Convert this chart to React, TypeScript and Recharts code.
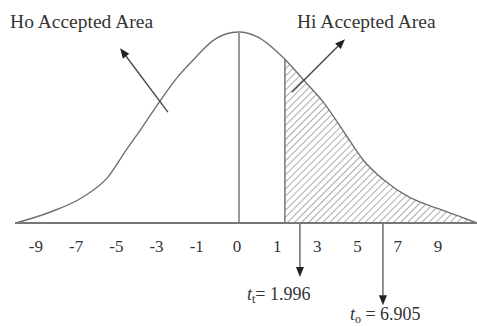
import { ComposedChart, Area, Line, XAxis, YAxis, ReferenceLine } from "recharts";

// bell curve (t value -> height)
const tValues = [-9.7, -8.2, -6.8, -5.7, -4.9, -4.2, -3.4, -2.7, -2.0, -1.1, -0.3, 0, 0.8, 1.996, 2.8, 3.7, 4.6, 5.4, 6.3, 7.4, 8.6, 9.8, 10.35];
const density = [0, 0.023, 0.054, 0.096, 0.153, 0.201, 0.258, 0.304, 0.341, 0.383, 0.399, 0.4, 0.39, 0.343, 0.3, 0.251, 0.188, 0.132, 0.09, 0.054, 0.031, 0.01, 0];

// axis labels as printed (evenly spaced under the curve)
const tickLabels = ["-9", "-7", "-5", "-3", "-1", "0", "1", "3", "5", "7", "9"];

const tTable = 1.996;
const tObserved = 6.905;

const FONT = "'Liberation Serif', 'Times New Roman', serif";

const data = tValues.map((t, i) => ({
  t,
  density: density[i],
  shade: t >= tTable ? density[i] : undefined,
}));

// rows for the label axis (one per printed tick)
const labelRows = tickLabels.map((label, i) => ({ i, label, base: 0 }));

function arrowShape(opts: { label?: any; dx?: number; dy?: number; size?: number; color?: string }) {
  return (props: any) => {
    const { x1, y1, x2, y2 } = props;
    const ang = Math.atan2(y2 - y1, x2 - x1);
    const len = 10;
    const half = 4;
    const bx = x2 - len * Math.cos(ang);
    const by = y2 - len * Math.sin(ang);
    const px = -Math.sin(ang) * half;
    const py = Math.cos(ang) * half;
    const color = opts.color ?? "#444";
    return (
      <g>
        <line x1={x1} y1={y1} x2={bx} y2={by} stroke={color} strokeWidth={1.3} />
        <polygon points={`${x2},${y2} ${bx + px},${by + py} ${bx - px},${by - py}`} fill="#222" />
        {opts.label && (
          <text
            x={x2 + (opts.dx ?? 0)}
            y={y2 + (opts.dy ?? 0)}
            style={{ fontFamily: FONT, fontSize: opts.size ?? 18 }}
            fill="#333"
          >
            {opts.label}
          </text>
        )}
      </g>
    );
  };
}

const ttLabel = (
  <>
    <tspan fontStyle="italic">t</tspan>
    <tspan dy={3} style={{ fontSize: 12 }}>t</tspan>
    <tspan dy={-3}>= {tTable}</tspan>
  </>
);
const toLabel = (
  <>
    <tspan fontStyle="italic">t</tspan>
    <tspan dy={3} style={{ fontSize: 12 }}>o</tspan>
    <tspan dy={-3}> = {tObserved}</tspan>
  </>
);

export default function App() {
  return (
    <div style={{ position: "absolute", left: 0, top: 0, background: "#fff", fontFamily: FONT }}>
      <ComposedChart width={477} height={326} data={data} margin={{ top: 32, right: 0, bottom: 73, left: 15 }}>
        <defs>
          <pattern id="hatch" width="5" height="5" patternUnits="userSpaceOnUse" patternTransform="rotate(45)">
            <line x1="0" y1="0" x2="0" y2="5" stroke="#666" strokeWidth={1.1} />
          </pattern>
        </defs>
        <XAxis xAxisId="t" dataKey="t" type="number" domain={[-9.74, 10.35]} allowDataOverflow hide />
        <XAxis
          xAxisId="lab"
          dataKey="i"
          type="number"
          domain={[-0.52, 10.97]}
          allowDataOverflow
          ticks={labelRows.map((r) => r.i)}
          interval={0}
          tickFormatter={(i: number) => tickLabels[i]}
          height={30}
          tickLine={false}
          tickSize={15}
          tickMargin={2}
          axisLine={{ stroke: "#777", strokeWidth: 2 }}
          tick={{ fill: "#333", fontSize: 17, fontFamily: FONT }}
        />
        <YAxis domain={[0, 0.4]} hide />
        <Line xAxisId="lab" data={labelRows} dataKey="base" stroke="none" dot={false} activeDot={false} isAnimationActive={false} />
        <Area xAxisId="t" type="monotone" dataKey="shade" stroke="none" fill="url(#hatch)" fillOpacity={1} isAnimationActive={false} dot={false} activeDot={false} />
        <Area xAxisId="t" type="monotone" dataKey="density" stroke="#707070" strokeWidth={1.4} fill="none" isAnimationActive={false} dot={false} activeDot={false} />
        <ReferenceLine xAxisId="t" segment={[{ x: 0, y: 0 }, { x: 0, y: 0.4 }]} stroke="#999" strokeWidth={2} ifOverflow="visible" />
        <ReferenceLine xAxisId="t" segment={[{ x: tTable, y: 0 }, { x: tTable, y: 0.343 }]} stroke="#777" strokeWidth={1.5} ifOverflow="visible" />
        <ReferenceLine
          xAxisId="t"
          segment={[{ x: -3.09, y: 0.232 }, { x: -5.17, y: 0.366 }]}
          ifOverflow="visible"
          shape={arrowShape({ label: "Ho Accepted Area", dx: -110, dy: -20, size: 19.5 })}
        />
        <ReferenceLine
          xAxisId="t"
          segment={[{ x: 2.3, y: 0.274 }, { x: 4.61, y: 0.385 }]}
          ifOverflow="visible"
          shape={arrowShape({ label: "Hi Accepted Area", dx: -48, dy: -11, size: 19.5 })}
        />
        <ReferenceLine
          xAxisId="t"
          segment={[{ x: 2.65, y: 0 }, { x: 2.65, y: -0.113 }]}
          ifOverflow="visible"
          shape={arrowShape({ label: ttLabel, dx: -53, dy: 23, color: "#555" })}
        />
        <ReferenceLine
          xAxisId="t"
          segment={[{ x: 6.26, y: 0 }, { x: 6.26, y: -0.172 }]}
          ifOverflow="visible"
          shape={arrowShape({ label: toLabel, dx: -33, dy: 15, color: "#555" })}
        />
      </ComposedChart>
    </div>
  );
}
